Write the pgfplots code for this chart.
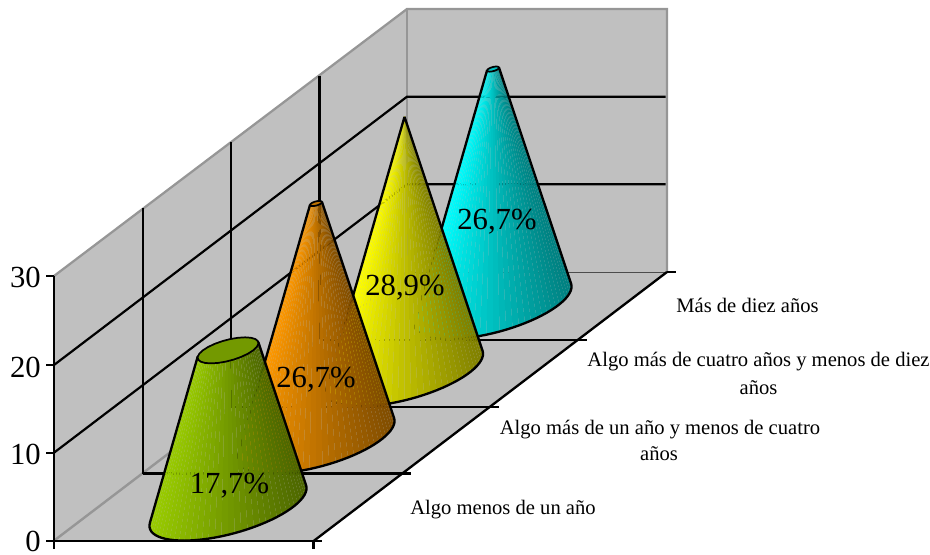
\documentclass[border=0pt]{standalone}
\usepackage{pgfplots}
\usepackage{fontspec}
\setmainfont{Liberation Serif}
\pgfplotsset{compat=1.18}

\definecolor{wall}{HTML}{C0C0C0}
\definecolor{edge}{HTML}{969696}

% Projection constants of the 3D scene
\def\ua{65}      % horizontal radius of a base
\def\vx{44.1}    % depth vector of a base, x part
\def\vz{33.6}    % depth vector of a base, y part
\def\unit{8.85}  % height of one value unit
\def\apex{28.9}  % value at which the cones close
\def\tl{207.92}  % left silhouette angle
\def\dt{4.812}   % facet step

\tikzset{
  big/.style={font=\fontsize{23}{25}\selectfont,inner sep=0pt},
  cat/.style={font=\fontsize{15.45}{17}\selectfont,inner sep=0pt},
  gridline/.style={black,line width=1.65pt},
  axisline/.style={black,line width=1.75pt},
}

% #1,#2 base centre, #3 value, #4-#6 lit colour, #7-#9 shaded colour
\newcommand{\cone}[9]{%
  \pgfmathsetmacro{\H}{#3*\unit}%
  \pgfmathsetmacro{\s}{1-#3/\apex}%
  \foreach \i in {0,...,39}{%
    \pgfmathsetmacro{\ta}{\tl+\i*\dt}%
    \pgfmathsetmacro{\tb}{\ta+\dt}%
    \pgfmathsetmacro{\tm}{\ta+0.5*\dt}%
    \pgfmathsetmacro{\xa}{\ua*cos(\ta)+\vx*sin(\ta)}%
    \pgfmathsetmacro{\xb}{\ua*cos(\tb)+\vx*sin(\tb)}%
    \pgfmathsetmacro{\ya}{\vz*sin(\ta)}%
    \pgfmathsetmacro{\yb}{\vz*sin(\tb)}%
    \pgfmathsetmacro{\f}{(\ua*cos(\tm)+\vx*sin(\tm)+78.55)/157.1}%
    \pgfmathsetmacro{\cr}{#4+(#7-#4)*\f}%
    \pgfmathsetmacro{\cg}{#5+(#8-#5)*\f}%
    \pgfmathsetmacro{\cb}{#6+(#9-#6)*\f}%
    \pgfmathsetmacro{\pax}{#1+\xa}\pgfmathsetmacro{\pay}{#2-\ya}%
    \pgfmathsetmacro{\pbx}{#1+\xb}\pgfmathsetmacro{\pby}{#2-\yb}%
    \pgfmathsetmacro{\qax}{#1+\s*\xa}\pgfmathsetmacro{\qay}{#2-\H-\s*\ya}%
    \pgfmathsetmacro{\qbx}{#1+\s*\xb}\pgfmathsetmacro{\qby}{#2-\H-\s*\yb}%
    \edef\temp{\noexpand\addplot[forget plot,draw=none,
        fill={rgb,1:red,\cr;green,\cg;blue,\cb}]
      coordinates {(\pax,\pay)(\pbx,\pby)(\qbx,\qby)(\qax,\qay)};}%
    \temp
  }%
  % outline of the sides and the base
  \pgfmathsetmacro{\xl}{\ua*cos(\tl)+\vx*sin(\tl)}%
  \pgfmathsetmacro{\yl}{\vz*sin(\tl)}%
  \pgfmathsetmacro{\ox}{#1+\s*\xl}\pgfmathsetmacro{\oy}{#2-\H-\s*\yl}%
  \xdef\outline{(\ox,\oy)}%
  \foreach \i in {0,...,40}{%
    \pgfmathsetmacro{\ta}{\tl+\i*\dt}%
    \pgfmathsetmacro{\ox}{#1+\ua*cos(\ta)+\vx*sin(\ta)}%
    \pgfmathsetmacro{\oy}{#2-\vz*sin(\ta)}%
    \xdef\outline{\outline (\ox,\oy)}%
  }%
  \pgfmathsetmacro{\ta}{\tl+40*\dt}%
  \pgfmathsetmacro{\ox}{#1+\s*(\ua*cos(\ta)+\vx*sin(\ta))}%
  \pgfmathsetmacro{\oy}{#2-\H-\s*\vz*sin(\ta)}%
  \xdef\outline{\outline (\ox,\oy)}%
  \edef\temp{\noexpand\addplot[forget plot,black,line width=1.75pt,line join=round]
    coordinates {\outline};}%
  \temp
  % cap of the cut cone
  \xdef\outline{}%
  \foreach \i in {0,15,...,360}{%
    \pgfmathsetmacro{\ox}{#1+\s*(\ua*cos(\i)+\vx*sin(\i))}%
    \pgfmathsetmacro{\oy}{#2-\H-\s*\vz*sin(\i)}%
    \xdef\outline{\outline (\ox,\oy)}%
  }%
  \pgfmathsetmacro{\cr}{(#4+#7)/2}%
  \pgfmathsetmacro{\cg}{(#5+#8)/2}%
  \pgfmathsetmacro{\cb}{(#6+#9)/2}%
  \edef\temp{\noexpand\addplot[forget plot,draw=black,line width=1.3pt,line join=round,
      fill={rgb,1:red,\cr;green,\cg;blue,\cb}]
    coordinates {\outline};}%
  \temp
}

\begin{document}
\begin{tikzpicture}
\begin{axis}[
  width=697.5pt, height=416.25pt, scale only axis,
  xmin=0, xmax=930, ymin=0, ymax=555, y dir=reverse,
  hide axis, clip=false,
  every axis plot/.append style={mark=none},
]
% keep the full canvas in the picture's bounding box
\path (axis cs:0,0) rectangle (axis cs:930,555);

% walls and floor
\addplot[forget plot,draw=none,fill=wall] coordinates {(54,540.7)(54,276)(407,9)(407,272)};
\addplot[forget plot,draw=none,fill=wall] coordinates {(407,9)(667,9)(667,272)(407,272)};
\addplot[forget plot,draw=none,fill=wall] coordinates {(54,540.7)(314,540.7)(667,272)(407,272)};

% wall borders
\addplot[forget plot,edge,line width=1.7pt] coordinates {(54,276)(407,9)(667,9)(667,272)};
\addplot[forget plot,edge,line width=1.8pt] coordinates {(407,9)(407,272)};
\addplot[forget plot,edge,line width=1.8pt] coordinates {(54,540.7)(407,272)};
\addplot[forget plot,black!70,line width=0.7pt] coordinates {(407,272)(667,272)};

% grid on the walls
\addplot[forget plot,gridline] coordinates {(54,452.7)(407,184.3)(665.5,184.3)};
\addplot[forget plot,gridline] coordinates {(54,365)(407,96.7)(665.5,96.7)};
\addplot[forget plot,gridline] coordinates {(143,473.5)(143,208.5)};
\addplot[forget plot,gridline] coordinates {(231,406.5)(231,142)};
\addplot[forget plot,gridline] coordinates {(319.5,339.5)(319.5,76)};

% grid on the floor, with its ticks
\addplot[forget plot,gridline] coordinates {(143,473.5)(411,473.5)};
\addplot[forget plot,gridline] coordinates {(231,406.7)(499,406.7)};
\addplot[forget plot,gridline] coordinates {(319.5,339.8)(587,339.8)};
\addplot[forget plot,gridline] coordinates {(667,272)(676,272)};

% axes
\addplot[forget plot,axisline] coordinates {(54,276)(54,549)};
\addplot[forget plot,axisline] coordinates {(46,540.7)(322,540.7)};
\addplot[forget plot,axisline] coordinates {(314,540.7)(667,272)};
\addplot[forget plot,axisline] coordinates {(313.5,540.7)(313.5,549)};
\addplot[forget plot,axisline] coordinates {(46,276)(54,276)};
\addplot[forget plot,axisline] coordinates {(46,365)(54,365)};
\addplot[forget plot,axisline] coordinates {(46,452.7)(54,452.7)};

% cones, back to front
\cone{493}{305.4}{26.7}{0}{1}{1}{0}{0.5}{0.5}
\cone{404.5}{372.6}{28.9}{1}{1}{0}{0.5}{0.5}{0}
\cone{316}{439.8}{26.7}{1}{0.6}{0}{0.5}{0.3}{0}
\cone{228}{507}{17.7}{0.6}{0.8}{0}{0.3}{0.4}{0}

% value axis numbers
\node[big,anchor=base east] at (axis cs:41,288) {30};
\node[big,anchor=base east] at (axis cs:41,377) {20};
\node[big,anchor=base east] at (axis cs:41,464) {10};
\node[big,anchor=base east] at (axis cs:41,551) {0};

% value labels
\node[big,anchor=base] at (axis cs:229.5,493.7) {17,7\%};
\node[big,anchor=base] at (axis cs:316,387.7) {26,7\%};
\node[big,anchor=base] at (axis cs:405,296) {28,9\%};
\node[big,anchor=base] at (axis cs:497,229.3) {26,7\%};

% category names
\node[cat,anchor=base] at (axis cs:503,514) {Algo menos de un año};
\node[cat,anchor=base] at (axis cs:660,434) {Algo más de un año y menos de cuatro};
\node[cat,anchor=base] at (axis cs:659,460.6) {años};
\node[cat,anchor=base] at (axis cs:758.5,367) {Algo más de cuatro años y menos de diez};
\node[cat,anchor=base] at (axis cs:758.5,394) {años};
\node[cat,anchor=base] at (axis cs:747.5,313) {Más de diez años};
\end{axis}
\end{tikzpicture}
\end{document}
